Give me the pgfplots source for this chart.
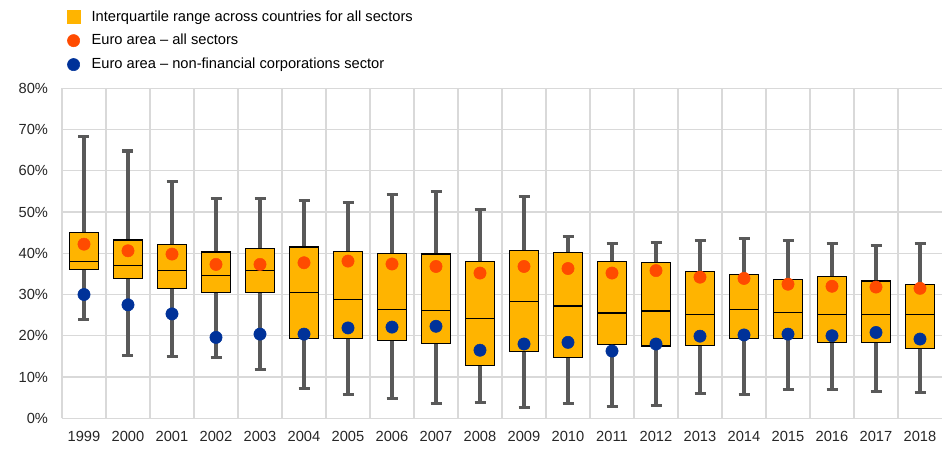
\documentclass[border=0pt]{standalone}
\usepackage{pgfplots}
\pgfplotsset{compat=1.18}
\usepgfplotslibrary{statistics}
\usepackage{fontspec}
\setmainfont{Liberation Sans}
\definecolor{boxorange}{HTML}{FFB400}
\definecolor{dotorange}{HTML}{FF4B00}
\definecolor{dotblue}{HTML}{003299}
\definecolor{whiskgray}{HTML}{595959}
\definecolor{gridgray}{HTML}{D9D9D9}
\newcommand{\bx}[6]{\addplot[forget plot, draw=black, fill=boxorange,
  boxplot prepared={draw direction=y, draw position=#1, lower whisker=#2, lower quartile=#3, median=#4, upper quartile=#5, upper whisker=#6}] coordinates {};}
\begin{document}
\begin{tikzpicture}
\path[use as bounding box] (-46.5pt,-23.8pt) rectangle (660.75pt,313.7pt);
\begin{axis}[
  at={(0,0)}, anchor=south west,
  scale only axis, width=660pt, height=247.5pt,
  xmin=-0.5, xmax=19.5, ymin=0, ymax=80,
  axis line style={draw=none},
  xtick={0,...,19},
  xticklabels={1999,2000,2001,2002,2003,2004,2005,2006,2007,2008,2009,2010,2011,2012,2013,2014,2015,2016,2017,2018},
  minor xtick={-0.5,0.5,...,18.5},
  ytick={0,10,...,80},
  yticklabel={\pgfmathprintnumber{\tick}\%},
  /pgf/number format/assume math mode=true,
  major tick length=0pt, minor tick length=0pt,
  ymajorgrids, xminorgrids,
  grid style={draw=gridgray, line width=0.8pt},
  minor grid style={draw=gridgray, line width=0.8pt},
  tick label style={font=\fontsize{11}{13}\selectfont, text=black!85},
  yticklabel style={xshift=-7pt},
  xticklabel style={yshift=-6.5pt},
  boxplot/box extend=0.66,
  boxplot/whisker extend=0.25,
  boxplot/every box/.style={draw=black, fill=boxorange, line width=0.9pt},
  boxplot/every whisker/.style={draw=whiskgray, line width=2.3pt},
  boxplot/every median/.style={draw=black, line width=0.9pt},
  legend image code/.code={\path[draw=none,fill=none] (0pt,-1pt) rectangle (20pt,1pt); \draw[#1] plot coordinates {(8.5pt,0pt)};},
  legend style={at={(rel axis cs:0,1.253)}, anchor=north west, draw=none, fill=none,
    font=\fontsize{11}{13}\selectfont, row sep=4.5pt, inner xsep=0pt, cells={anchor=west}},
  legend cell align=left,
]
\addlegendimage{only marks, mark=square*, mark size=5pt, color=boxorange}
\addlegendimage{only marks, mark=*, mark size=4.6pt, color=dotorange}
\addlegendimage{only marks, mark=*, mark size=4.6pt, color=dotblue}
\bx{0}{24.0}{36.0}{38.1}{45.1}{68.3}
\bx{1}{15.2}{33.9}{37.1}{43.2}{64.8}
\bx{2}{14.9}{31.5}{35.8}{42.2}{57.5}
\bx{3}{14.7}{30.5}{34.7}{40.3}{53.2}
\bx{4}{11.9}{30.5}{35.8}{41.1}{53.2}
\bx{5}{7.3}{19.3}{30.5}{41.5}{52.8}
\bx{6}{5.8}{19.4}{28.7}{40.5}{52.4}
\bx{7}{4.7}{18.9}{26.3}{39.9}{54.3}
\bx{8}{3.5}{18.1}{26.2}{39.8}{54.9}
\bx{9}{3.9}{12.7}{24.2}{38.0}{50.5}
\bx{10}{2.6}{16.2}{28.3}{40.6}{53.8}
\bx{11}{3.5}{14.8}{27.2}{40.2}{44.1}
\bx{12}{2.9}{17.9}{25.5}{38.0}{42.3}
\bx{13}{3.1}{17.5}{26.0}{37.8}{42.7}
\bx{14}{6.1}{17.6}{25.1}{35.5}{43.0}
\bx{15}{5.8}{19.4}{26.4}{34.8}{43.6}
\bx{16}{6.9}{19.4}{25.7}{33.6}{43.2}
\bx{17}{7.0}{18.3}{25.2}{34.3}{42.3}
\bx{18}{6.5}{18.4}{25.1}{33.3}{41.8}
\bx{19}{6.3}{17.0}{25.2}{32.4}{42.4}
\addplot[forget plot, only marks, mark=*, mark size=4.6pt, color=dotorange] coordinates {
(0,42.2) (1,40.6) (2,39.8) (3,37.3) (4,37.3) (5,37.7) (6,38.1) (7,37.4) (8,36.8) (9,35.2)
(10,36.8) (11,36.3) (12,35.2) (13,35.8) (14,34.2) (15,33.9) (16,32.5) (17,32.0) (18,31.8) (19,31.5)};
\addplot[forget plot, only marks, mark=*, mark size=4.6pt, color=dotblue] coordinates {
(0,30.0) (1,27.5) (2,25.3) (3,19.6) (4,20.4) (5,20.4) (6,21.9) (7,22.1) (8,22.3) (9,16.5)
(10,18.0) (11,18.4) (12,16.3) (13,18.0) (14,19.9) (15,20.2) (16,20.4) (17,20.0) (18,20.8) (19,19.2)};
\legend{Interquartile range across countries for all sectors, Euro area -- all sectors, Euro area -- non-financial corporations sector}
\end{axis}
\end{tikzpicture}
\end{document}
